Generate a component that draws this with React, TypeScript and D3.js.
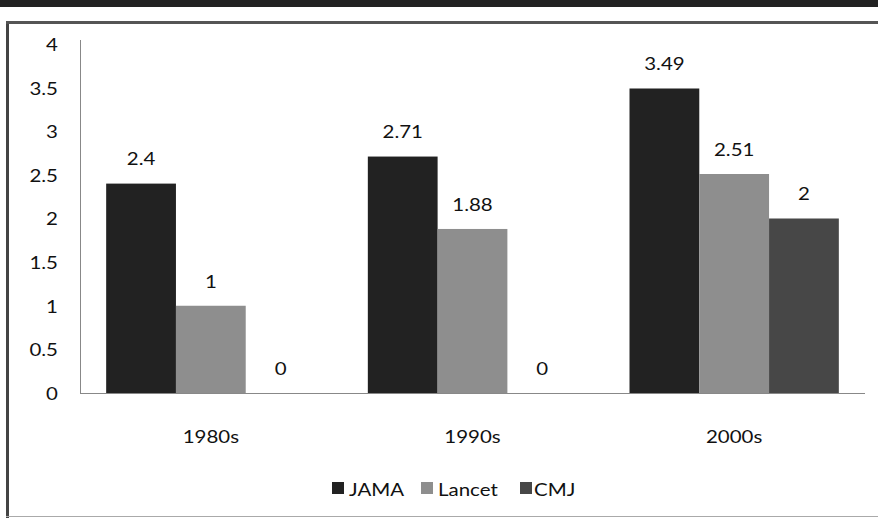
import React from "react";
import * as d3 from "d3";

const categories = ["1980s", "1990s", "2000s"];
const seriesNames = ["JAMA", "Lancet", "CMJ"];
const jama = [2.4, 2.71, 3.49];
const lancet = [1, 1.88, 2.51];
const cmj = [0, 0, 2];
const yTicks = [0, 0.5, 1, 1.5, 2, 2.5, 3, 3.5, 4];
const colors = ["#222222", "#8e8e8e", "#474747"];

const W = 878;
const H = 518;
const left = 80;
const right = 865;
const top = 44;
const bottom = 393;
const FONT = "Lato, 'Open Sans', sans-serif";
const SX = 1.17;

function T({ x, y, anchor = "middle", children }: { x: number; y: number; anchor?: string; children: any }) {
  return (
    <text
      transform={`translate(${x},${y}) scale(${SX},1)`}
      textAnchor={anchor}
      dominantBaseline="central"
      fontFamily={FONT}
      fontSize={17.5}
      fill="#111"
    >
      {children}
    </text>
  );
}

export default function App() {
  const series = [jama, lancet, cmj];
  const x = d3.scaleBand<string>().domain(categories).range([left, right]).paddingInner(0.2).paddingOuter(0.1);
  const xs = d3.scaleBand<string>().domain(seriesNames).range([0, x.bandwidth()]);
  const y = d3.scaleLinear().domain([0, 4]).range([bottom, top]);

  const legendItems = [
    { name: "JAMA", sx: 332, tx: 349 },
    { name: "Lancet", sx: 421, tx: 438 },
    { name: "CMJ", sx: 520, tx: 534 },
  ];

  return (
    <svg width={W} height={H} style={{ position: "absolute", left: 0, top: 0, background: "#fff" }}>
      <rect x={0} y={0} width={W} height={7} fill="#222" />
      <line x1={7.5} y1={22} x2={7.5} y2={H} stroke="#444" strokeWidth={3} />
      <line x1={6} y1={22.5} x2={W} y2={22.5} stroke="#555" strokeWidth={3} />
      <line x1={6} y1={516.5} x2={W} y2={516.5} stroke="#aaa" strokeWidth={1} />

      {categories.map((c, ci) =>
        series.map((s, si) => (
          <rect
            key={c + si}
            x={(x(c) as number) + (xs(seriesNames[si]) as number)}
            y={y(s[ci])}
            width={xs.bandwidth()}
            height={bottom - y(s[ci])}
            fill={colors[si]}
          />
        ))
      )}

      <line x1={80.5} y1={top - 4} x2={80.5} y2={bottom} stroke="#888" strokeWidth={1} />
      <line x1={80} y1={bottom + 0.5} x2={right} y2={bottom + 0.5} stroke="#888" strokeWidth={1} />

      {yTicks.map((t) => (
        <T key={t} x={58} y={y(t)} anchor="end">
          {String(t)}
        </T>
      ))}

      {categories.map((c) => (
        <T key={c} x={(x(c) as number) + x.bandwidth() / 2} y={436}>
          {c}
        </T>
      ))}

      {categories.map((c, ci) =>
        series.map((s, si) => (
          <T
            key={"l" + c + si}
            x={(x(c) as number) + (xs(seriesNames[si]) as number) + xs.bandwidth() / 2}
            y={y(s[ci]) - 25}
          >
            {String(s[ci])}
          </T>
        ))
      )}

      {legendItems.map((l, i) => (
        <g key={l.name}>
          <rect x={l.sx} y={482} width={12} height={12} fill={colors[i]} />
          <T x={l.tx} y={489} anchor="start">
            {l.name}
          </T>
        </g>
      ))}
    </svg>
  );
}
